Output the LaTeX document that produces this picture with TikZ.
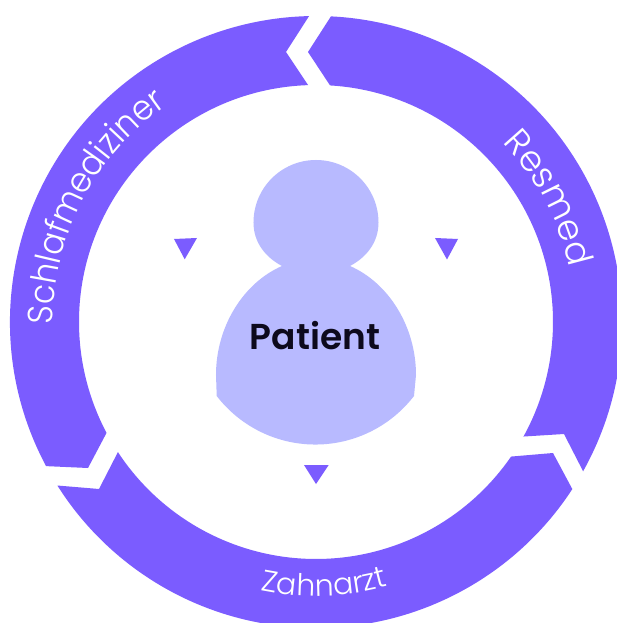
\documentclass[tikz,border=0pt]{standalone}
\usepackage{fontspec}
\usetikzlibrary{decorations.text}
\newfontfamily\schlaffont[FakeStretch=0.93]{Poppins Light}
\newfontfamily\ringfont{Poppins Light}
\newfontfamily\patientfont{Poppins SemiBold}
\definecolor{ringpurple}{HTML}{7B5CFF}
\definecolor{personblue}{HTML}{B8BAFF}
\definecolor{patientink}{HTML}{0D0A1C}
\def\Ro{306}
\def\Ri{237}
\tikzset{
segment/.style={fill=ringpurple},
pointer/.style={fill=ringpurple},
person/.style={fill=personblue},
ringtext/.style 2 args={decorate,decoration={text along path,text align=center,text color=white,
text={|#1|#2}}}
}
\begin{document}
\begin{tikzpicture}[x=1pt,y=1pt]
\clip (-316,-301) rectangle (301,322);
\fill[white] (-316,-301) rectangle (301,322);
\fill[segment] (87.2:\Ro) -- (-8,270) -- (86.6:\Ri) arc[start angle=86.6,end angle=-28.9,radius=\Ri]
-- (248,-112) -- (-29.2:\Ro) arc[start angle=-29.2,end angle=87.2,radius=\Ro] -- cycle;
\fill[segment] (-34.6:\Ri) -- (237,-131) -- (-33.1:\Ro) arc[start angle=-33.1,end angle=-147.7,radius=\Ro]
-- (-217,-167) -- (-146.7:\Ri) arc[start angle=-146.7,end angle=-34.6,radius=\Ri] -- cycle;
\fill[segment] (91.3:\Ro) -- (-30,270) -- (91.9:\Ri) arc[start angle=91.9,end angle=207.9,radius=\Ri]
-- (-228,-146) -- (208.1:\Ro) arc[start angle=208.1,end angle=91.3,radius=\Ro] -- cycle;
\fill[person] (-34,56) .. controls (-51,65) and (-62.5,80) .. (-62.5,99.5)
arc[start angle=180,end angle=0,radius=62.5] .. controls (62.5,80) and (51,65) .. (34,56)
.. controls (73,39) and (100,-5) .. (100,-53) -- (98,-74)
arc[start angle=-37.6,end angle=-142.4,radius=124.5] -- (-100,-53)
.. controls (-100,-5) and (-73,39) .. (-34,56) -- cycle;
\fill[pointer] (-142,83) -- (-119,84) -- (-131.3,62.7) -- cycle;
\fill[pointer] (119,84) -- (142,83) -- (131,62.5) -- cycle;
\fill[pointer] (-12,-143) -- (12.7,-143) -- (0,-162) -- cycle;
\node (patient) at (-1,-28) [anchor=base,text=patientink,inner sep=0pt,font=\patientfont\fontsize{36}{36}\selectfont] {Patient};
\path[ringtext={\schlaffont\fontsize{35}{35}\selectfont}{Schlafmediziner}]
(192.5:263) arc[start angle=192.5,end angle=112.5,radius=263];
\path[ringtext={\ringfont\fontsize{35.5}{36}\selectfont}{Resmed}]
(68:259) arc[start angle=68,end angle=-12,radius=259];
\path[ringtext={\ringfont\fontsize{30}{30}\selectfont}{Zahnarzt}]
(-118.2:274) arc[start angle=-118.2,end angle=-58.2,radius=274];
\end{tikzpicture}
\end{document}
